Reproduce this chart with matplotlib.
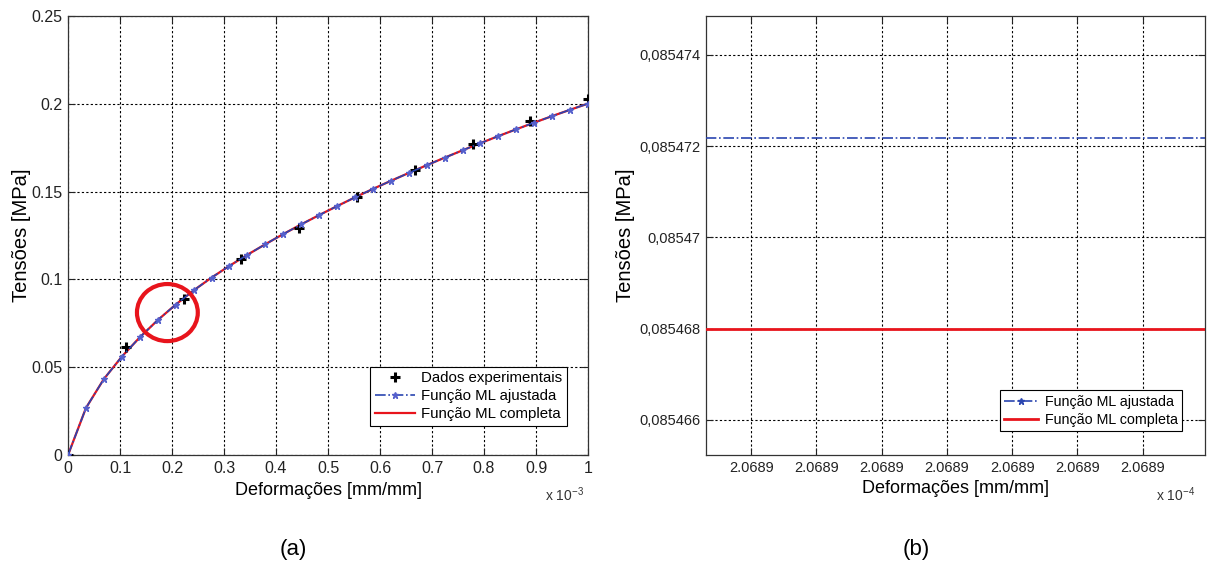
import numpy as np
import matplotlib
matplotlib.use("Agg")
import matplotlib.pyplot as plt
from matplotlib.patches import Ellipse
from matplotlib.ticker import FixedLocator, FixedFormatter

plt.rcParams['font.family'] = ['Liberation Sans', 'DejaVu Sans']
plt.rcParams['mathtext.fontset'] = 'custom'
plt.rcParams['mathtext.rm'] = 'Liberation Sans'
plt.rcParams['mathtext.it'] = 'Liberation Sans'

# (a) strain in units of 1e-3 mm/mm, stress in MPa
exp_strain = [0, 1/9, 2/9, 3/9, 4/9, 5/9, 6/9, 7/9, 8/9, 1.0]
exp_stress = [0, 0.0615, 0.0890, 0.1115, 0.1295, 0.1470, 0.1625, 0.1770, 0.1900, 0.2025]

fit_strain = [k / 29 for k in range(30)]
fit_stress = [0, 0.0268, 0.0433, 0.0560, 0.0670, 0.0768, 0.0856, 0.0937, 0.1010, 0.1077,
              0.1140, 0.1200, 0.1258, 0.1313, 0.1366, 0.1417, 0.1467, 0.1515, 0.1561, 0.1606,
              0.1650, 0.1693, 0.1735, 0.1776, 0.1816, 0.1855, 0.1893, 0.1930, 0.1966, 0.2001]
full_stress = fit_stress

a_xticks = [0, 0.1, 0.2, 0.3, 0.4, 0.5, 0.6, 0.7, 0.8, 0.9, 1.0]
a_xlabels = ['0', '0.1', '0.2', '0.3', '0.4', '0.5', '0.6', '0.7', '0.8', '0.9', '1']
a_yticks = [0, 0.05, 0.1, 0.15, 0.2, 0.25]
a_ylabels = ['0', '0.05', '0.1', '0.15', '0.2', '0.25']

# (b) zoom at one strain value (units of 1e-4)
b_strain = [2.0688, 2.0690]
b_fit = [0.08547217, 0.08547217]
b_full = [0.085468, 0.085468]
b_xticks = [2.0689 + k * 1e-7 for k in range(7)]
b_xlabels = ['2.0689'] * 7
b_yticks = [0.085466, 0.085468, 0.085470, 0.085472, 0.085474]
b_ylabels = ['0,085466', '0,085468', '0,08547', '0,085472', '0,085474']

blue = '#2a45b0'
mblue = '#5560cc'
red = '#e8141c'

fig = plt.figure(figsize=(12.13, 5.71), dpi=100)
ax1 = fig.add_axes([0.0561, 0.2032, 0.4287, 0.7688])
ax2 = fig.add_axes([0.582, 0.2032, 0.4114, 0.7688])


def style(ax, size):
    ax.grid(True, color='black', linestyle=(0, (2, 2)), linewidth=0.8)
    ax.tick_params(direction='in', top=True, right=True, length=5, width=0.8,
                   labelsize=size, pad=4, colors='#222222')
    for s in ax.spines.values():
        s.set_linewidth(0.9)
        s.set_color('#333333')


ax1.plot(exp_strain, exp_stress, linestyle='none', marker='+', color='black',
         markersize=6.5, markeredgewidth=2.2, label='Dados experimentais', zorder=4)
ax1.plot(fit_strain, fit_stress, linestyle='-.', color=blue, marker='*', markersize=5,
         markerfacecolor=mblue, markeredgecolor=mblue, linewidth=1.2,
         label='Função ML ajustada', zorder=5)
ax1.plot(fit_strain, full_stress, color=red, linewidth=1.6, label='Função ML completa', zorder=3)
ax1.add_patch(Ellipse((0.191, 0.0811), 0.117, 0.0325, fill=False, edgecolor=red,
                      linewidth=3.0, zorder=6))
ax1.set_xlim(0, 1)
ax1.set_ylim(0, 0.25)
ax1.xaxis.set_major_locator(FixedLocator(a_xticks))
ax1.xaxis.set_major_formatter(FixedFormatter(a_xlabels))
ax1.yaxis.set_major_locator(FixedLocator(a_yticks))
ax1.yaxis.set_major_formatter(FixedFormatter(a_ylabels))
style(ax1, 11.5)
ax1.set_xlabel('Deformações [mm/mm]', fontsize=13, labelpad=5)
ax1.set_ylabel('Tensões [MPa]', fontsize=14.5, labelpad=0)
ax1.text(0.992, -0.09, r'x 10$^{-3}$', transform=ax1.transAxes, ha='right', va='center',
         fontsize=10, color='#333333')
leg1 = ax1.legend(loc='lower right', bbox_to_anchor=(0.9596, 0.066), fontsize=10.8,
                  fancybox=False, edgecolor='black', framealpha=1, borderpad=0.3,
                  labelspacing=0.28, handlelength=2.67, handletextpad=0.45, borderaxespad=0)
leg1.get_frame().set_linewidth(0.8)

ax2.plot(b_strain, b_fit, linestyle='-.', color=blue, marker='*', markersize=5,
         markerfacecolor=blue, markeredgecolor=blue, linewidth=1.2,
         label='Função ML ajustada', zorder=4)
ax2.plot(b_strain, b_full, color=red, linewidth=2.0, label='Função ML completa', zorder=3)
ax2.set_xlim(2.0689 - 45 / 65 * 1e-7, 2.0689 + 6e-7 + 62 / 65 * 1e-7)
ax2.set_ylim(0.08546523, 0.08547485)
ax2.xaxis.set_major_locator(FixedLocator(b_xticks))
ax2.xaxis.set_major_formatter(FixedFormatter(b_xlabels))
ax2.yaxis.set_major_locator(FixedLocator(b_yticks))
ax2.yaxis.set_major_formatter(FixedFormatter(b_ylabels))
style(ax2, 10.5)
ax2.set_xlabel('Deformações [mm/mm]', fontsize=13, labelpad=4)
ax2.set_ylabel('Tensões [MPa]', fontsize=14.5, labelpad=3)
ax2.text(0.98, -0.09, r'x 10$^{-4}$', transform=ax2.transAxes, ha='right', va='center',
         fontsize=10, color='#333333')
leg2 = ax2.legend(loc='lower right', bbox_to_anchor=(0.954, 0.0547), fontsize=10.3,
                  fancybox=False, edgecolor='black', framealpha=1, borderpad=0.3,
                  labelspacing=0.28, handlelength=2.4, handletextpad=0.45, borderaxespad=0)
leg2.get_frame().set_linewidth(0.8)

fig.text(293 / 1213, 1 - 550 / 571, '(a)', ha='center', va='center', fontsize=16)
fig.text(916 / 1213, 1 - 550 / 571, '(b)', ha='center', va='center', fontsize=16)

fig.savefig('out.png', dpi=100)
